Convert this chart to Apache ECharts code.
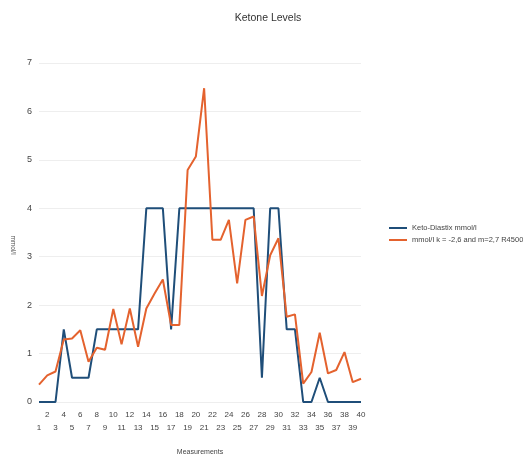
<!DOCTYPE html>
<html><head><meta charset="utf-8">
<script src="https://cdn.jsdelivr.net/npm/echarts@6/dist/echarts.min.js"></script>
<style>html,body{margin:0;padding:0;background:#fff}#c{width:523px;height:459px}</style>
</head><body><div id="c"></div>
<script>
const categories = Array.from({length:40},(_,i)=>String(i+1));
const ketoDiastix = [0,0,0,1.5,0.5,0.5,0.5,1.5,1.5,1.5,1.5,1.5,1.5,4,4,4,1.5,4,4,4,4,4,4,4,4,4,4,0.5,4,4,1.5,1.5,0,0,0.5,0,0,0,0,0];
const r4500 = [0.36,0.55,0.63,1.29,1.31,1.48,0.83,1.12,1.08,1.92,1.19,1.93,1.14,1.93,2.24,2.53,1.59,1.59,4.79,5.07,6.48,3.35,3.35,3.76,2.45,3.76,3.83,2.19,3.03,3.38,1.76,1.81,0.38,0.62,1.43,0.59,0.66,1.03,0.41,0.48];
const seriesNames = ['Keto-Diastix mmol/l','mmol/l k = -2,6 and m=2,7 R4500'];
const chart = echarts.init(document.getElementById('c'));
chart.setOption({
  animation:false,
  title:{text:'Ketone Levels',left:263,top:8,textAlign:'center',textStyle:{fontFamily:'Liberation Sans',fontSize:10.5,fontWeight:'normal',color:'#333'}},
  legend:{orient:'vertical',left:384,top:219,itemWidth:18,itemHeight:2,itemGap:4,icon:'rect',
    textStyle:{fontFamily:'Liberation Sans',fontSize:7.5,color:'#444'},data:seriesNames},
  grid:{left:39,right:162,top:63,bottom:57,containLabel:false,outerBoundsMode:'none'},
  graphic:[{type:'text',x:13,y:245,rotation:-Math.PI/2,
    style:{text:'mmol/l',fontFamily:'Liberation Sans',fontSize:6.5,fill:'#555',align:'center',verticalAlign:'middle'}}],
  xAxis:{type:'category',data:categories,boundaryGap:false,
    name:'Measurements',nameLocation:'middle',nameGap:47,nameTextStyle:{fontFamily:'Liberation Sans',fontSize:7,color:'#444'},
    axisLine:{show:false},axisTick:{show:false},
    axisLabel:{interval:0,fontFamily:'Liberation Sans',fontSize:8,color:'#444',lineHeight:13,margin:6,
      formatter:(v)=> (parseInt(v)%2===1 ? '\n'+v : v)}},
  yAxis:{type:'value',min:0,max:7,interval:1,
    axisLine:{show:false},axisTick:{show:false},
    axisLabel:{fontFamily:'Liberation Sans',fontSize:9,color:'#444',margin:7},
    splitLine:{lineStyle:{color:'#eeeeee',width:1}}},
  series:[
    {name:seriesNames[0],type:'line',data:ketoDiastix,symbol:'none',lineStyle:{color:'#1f4e79',width:2},itemStyle:{color:'#1f4e79'}},
    {name:seriesNames[1],type:'line',data:r4500,symbol:'none',lineStyle:{color:'#e4622e',width:2},itemStyle:{color:'#e4622e'}}
  ]
});
</script></body></html>
